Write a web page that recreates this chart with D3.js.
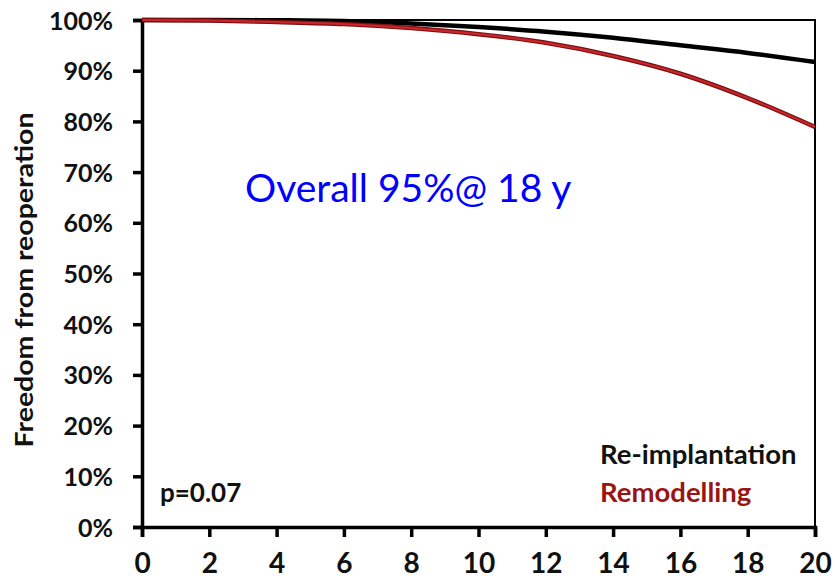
<!DOCTYPE html>
<html>
<head>
<meta charset="utf-8">
<script src="https://cdn.jsdelivr.net/npm/d3@7"></script>
<style>
  body { margin: 0; background: #fff; }
  svg text { font-family: Lato, "Open Sans", sans-serif; }
</style>
</head>
<body>
<div id="vis"></div>
<script>
// years since surgery
var years = [0, 2, 4, 6, 8, 10, 12, 14, 16, 18, 20];
// freedom from reoperation, %
var reimplantation = [100, 100, 99.95, 99.8, 99.3, 98.6, 97.7, 96.5, 95.0, 93.5, 91.7];
var remodelling = [100, 99.9, 99.6, 99.2, 98.4, 97.2, 95.5, 92.9, 89.4, 84.6, 78.9];
var yTicks = [0, 10, 20, 30, 40, 50, 60, 70, 80, 90, 100];
var xTicks = [0, 2, 4, 6, 8, 10, 12, 14, 16, 18, 20];

var width = 835;
var height = 580;
var margin = {top: 20, right: 20, bottom: 53, left: 142};

var svg = d3.select('#vis')
    .append('svg')
    .attr('width', width)
    .attr('height', height);

var x = d3.scaleLinear()
    .domain([0, 20])
    .range([margin.left, width - margin.right]);

var y = d3.scaleLinear()
    .domain([0, 100])
    .range([height - margin.bottom, margin.top]);

// frame on top and right
svg.append('path')
    .attr('d', 'M' + x(0) + ',' + y(100) + 'H' + x(20) + 'V' + y(0))
    .attr('fill', 'none')
    .attr('stroke', '#000')
    .attr('stroke-width', 2);

var yAxis = svg.append('g')
    .attr('transform', 'translate(' + x(0) + ',0)')
    .call(d3.axisLeft(y).tickValues(yTicks).tickSize(9).tickPadding(20)
        .tickFormat(function (d) { return d + '%'; }));

var xAxis = svg.append('g')
    .attr('transform', 'translate(0,' + y(0) + ')')
    .call(d3.axisBottom(x).tickValues(xTicks).tickSize(10).tickPadding(16));

[yAxis, xAxis].forEach(function (g) {
    g.select('.domain').attr('stroke-width', 3.5);
    g.selectAll('.tick line').attr('stroke-width', 3.5);
    g.selectAll('.tick text')
        .attr('fill', '#111')
        .style('font-weight', 'bold');
});
yAxis.selectAll('.tick text').style('font-size', '25px').attr('dy', '0.36em');
xAxis.selectAll('.tick text').style('font-size', '28px');

var line = d3.line()
    .x(function (d, i) { return x(years[i]); })
    .y(function (d) { return y(d); })
    .curve(d3.curveMonotoneX);

svg.append('path')
    .datum(reimplantation)
    .attr('d', line)
    .attr('fill', 'none')
    .attr('stroke', '#000')
    .attr('stroke-width', 4.5);

svg.append('path')
    .datum(remodelling)
    .attr('d', line)
    .attr('fill', 'none')
    .attr('stroke', '#7a0f10')
    .attr('stroke-width', 4.5);

svg.append('path')
    .datum(remodelling)
    .attr('d', line)
    .attr('fill', 'none')
    .attr('stroke', '#c8262a')
    .attr('stroke-width', 2.2);

// axis title
svg.append('text')
    .attr('transform', 'translate(33,' + 280 + ') rotate(-90)')
    .attr('text-anchor', 'middle')
    .attr('textLength', 335)
    .attr('lengthAdjust', 'spacingAndGlyphs')
    .style('font-size', '25px')
    .style('font-weight', 'bold')
    .attr('fill', '#111')
    .text('Freedom from reoperation');

svg.append('text')
    .attr('x', 245)
    .attr('y', 202)
    .style('font-size', '39px')
    .attr('fill', '#0000ff')
    .text('Overall 95%@ 18 y');

svg.append('text')
    .attr('x', 160)
    .attr('y', 502)
    .style('font-size', '26px')
    .style('font-weight', 'bold')
    .attr('fill', '#111')
    .text('p=0.07');

svg.append('text')
    .attr('x', 600)
    .attr('y', 464)
    .style('font-size', '27.5px')
    .style('font-weight', 'bold')
    .attr('fill', '#111')
    .text('Re-implantation');

svg.append('text')
    .attr('x', 600)
    .attr('y', 502)
    .style('font-size', '27.5px')
    .style('font-weight', 'bold')
    .attr('fill', '#9a1414')
    .text('Remodelling');
</script>
</body>
</html>
